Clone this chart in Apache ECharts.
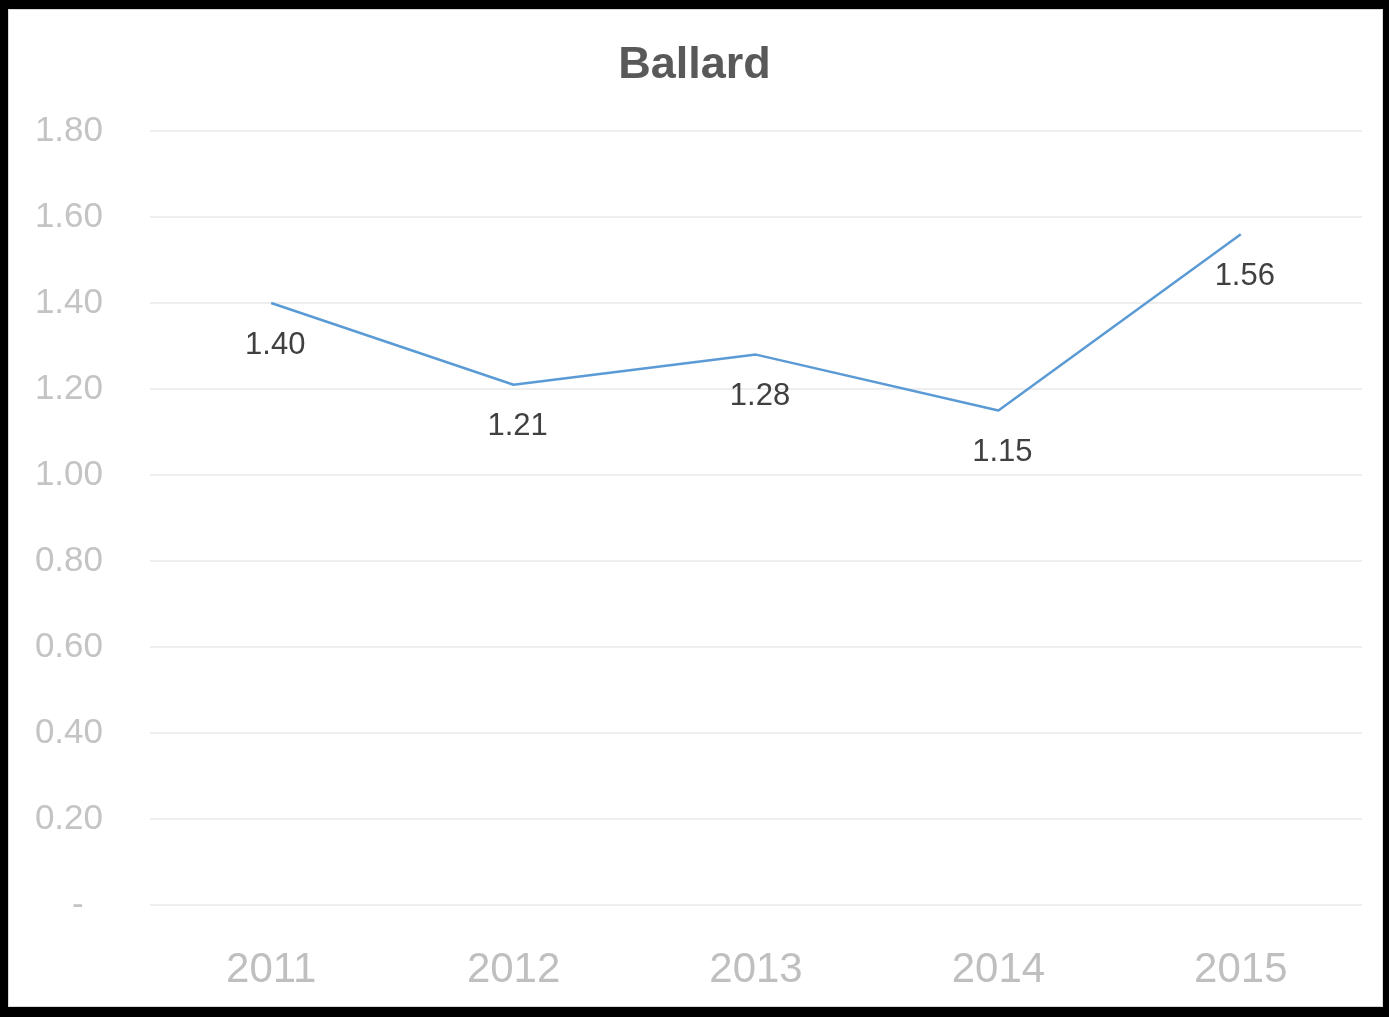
<!DOCTYPE html>
<html>
<head>
<meta charset="utf-8">
<script src="https://cdn.jsdelivr.net/npm/echarts@6/dist/echarts.min.js"></script>
<style>
html,body{margin:0;padding:0;background:#fff;}
#chart{position:absolute;left:0;top:0;width:1389px;height:1017px;}
#frame{position:absolute;left:0;top:0;width:1389px;height:1017px;box-sizing:border-box;
border-style:solid;border-color:#000;border-width:9px 6px 10px 8px;pointer-events:none;}
#inner{position:absolute;left:8px;top:9px;right:6px;bottom:10px;border:1px solid #d9d9d9;pointer-events:none;}
</style>
</head>
<body>
<div id="chart"></div>
<div id="frame"></div>
<div id="inner"></div>
<script>
const titleText = 'Ballard';
const categories = ['2011', '2012', '2013', '2014', '2015'];
const values = [1.40, 1.21, 1.28, 1.15, 1.56];
const yMin = 0, yMax = 1.8, yStep = 0.2;

const chart = echarts.init(document.getElementById('chart'));
const font = '"Liberation Sans", Arial, sans-serif';
chart.setOption({
  animation: false,
  backgroundColor: '#fff',
  title: {
    text: titleText,
    left: 'center',
    top: 38,
    textStyle: { fontFamily: font, fontWeight: 'bold', fontSize: 45, color: '#595959' }
  },
  grid: { left: 150, right: 27, top: 131, bottom: 112, containLabel: false },
  xAxis: {
    type: 'category',
    data: categories,
    boundaryGap: true,
    axisLine: { show: false },
    axisTick: { show: false },
    axisLabel: { fontFamily: font, fontSize: 42, color: '#bfbfbf', margin: 44 }
  },
  yAxis: {
    type: 'value',
    min: yMin, max: yMax, interval: yStep,
    axisLine: { show: false },
    axisTick: { show: false },
    splitLine: { lineStyle: { color: '#eeeeee', width: 2 } },
    axisLabel: {
      fontFamily: font, fontSize: 35, color: '#c4c4c4', margin: 47,
      formatter: v => (Math.abs(v) < 1e-9 ? '-  ' : v.toFixed(2))
    }
  },
  series: [{
    type: 'line',
    data: values,
    showSymbol: true,
    symbol: 'circle',
    symbolSize: 1,
    itemStyle: { color: 'rgba(91,155,213,0)' },
    lineStyle: { color: '#5b9bd5', width: 2.5 },
    label: {
      show: true,
      position: 'bottom',
      distance: 26,
      offset: [4, 0],
      fontFamily: font,
      fontSize: 31,
      color: '#404040',
      formatter: p => p.value.toFixed(2)
    }
  }]
});
</script>
</body>
</html>
